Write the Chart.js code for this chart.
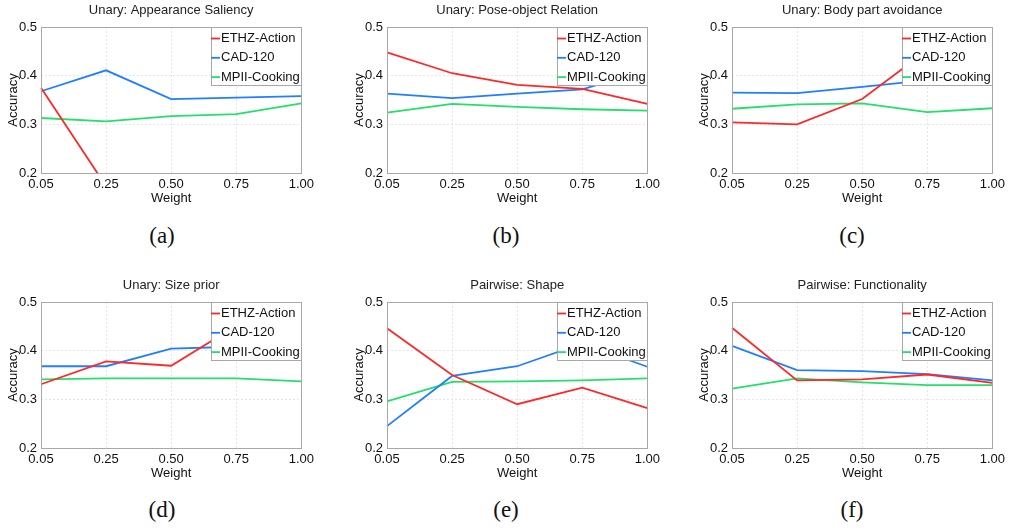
<!DOCTYPE html>
<html>
<head>
<meta charset="utf-8">
<script src="https://cdn.jsdelivr.net/npm/chart.js@4.4.1/dist/chart.umd.min.js"></script>
<style>
  body { margin: 0; background: #fff; }
  #fig { position: relative; width: 1009px; height: 529px; overflow: hidden; }
  #fig canvas { position: absolute; }
  .cap { position: absolute; width: 60px; text-align: center; font-family: "Liberation Serif", "Times New Roman", serif;
         font-size: 23px; line-height: 26px; color: #111; }
</style>
</head>
<body>
<div id="fig"></div>
<script>
// x categories and y ticks
const weights = ['0.05', '0.25', '0.50', '0.75', '1.00'];
const yTicks = [0.2, 0.3, 0.4, 0.5];
const seriesNames = ['ETHZ-Action', 'CAD-120', 'MPII-Cooking'];
const panelTitles = ['Unary: Appearance Saliency', 'Unary: Pose-object Relation', 'Unary: Body part avoidance',
                     'Unary: Size prior', 'Pairwise: Shape', 'Pairwise: Functionality'];
const captions = ['(a)', '(b)', '(c)', '(d)', '(e)', '(f)'];

// (a) appearance saliency
const saliencyEthz = [0.375, 0.173, 0.16, 0.16, 0.16];
const saliencyCad  = [0.368, 0.411, 0.352, 0.355, 0.358];
const saliencyMpii = [0.313, 0.306, 0.317, 0.321, 0.343];
// (b) pose-object relation
const poseEthz = [0.448, 0.405, 0.381, 0.373, 0.342];
const poseCad  = [0.363, 0.354, 0.363, 0.372, 0.412];
const poseMpii = [0.324, 0.342, 0.336, 0.331, 0.328];
// (c) body part avoidance
const bodyEthz = [0.304, 0.300, 0.352, 0.452, 0.398];
const bodyCad  = [0.365, 0.364, 0.377, 0.391, 0.412];
const bodyMpii = [0.332, 0.341, 0.343, 0.325, 0.333];
// (d) size prior
const sizeEthz = [0.331, 0.378, 0.369, 0.451, 0.395];
const sizeCad  = [0.368, 0.368, 0.404, 0.408, 0.411];
const sizeMpii = [0.341, 0.343, 0.343, 0.343, 0.337];
// (e) pairwise shape
const shapeEthz = [0.446, 0.350, 0.290, 0.324, 0.282];
const shapeCad  = [0.245, 0.348, 0.368, 0.415, 0.367];
const shapeMpii = [0.296, 0.336, 0.337, 0.339, 0.343];
// (f) pairwise functionality
const funcEthz = [0.447, 0.339, 0.341, 0.351, 0.334];
const funcCad  = [0.410, 0.360, 0.358, 0.352, 0.339];
const funcMpii = [0.322, 0.343, 0.335, 0.329, 0.329];

const panels = [
  [saliencyEthz, saliencyCad, saliencyMpii],
  [poseEthz, poseCad, poseMpii],
  [bodyEthz, bodyCad, bodyMpii],
  [sizeEthz, sizeCad, sizeMpii],
  [shapeEthz, shapeCad, shapeMpii],
  [funcEthz, funcCad, funcMpii]
];

const colors = ['#ff2828', '#1f7fff', '#24e06a'];
const FONT = '"Liberation Sans", Arial, sans-serif';
const CW = 318, CH = 215;
const canvasPos = [[0, 0], [346, 0], [691, 0], [0, 275], [346, 275], [691, 275]];
const capPos = [[162, 236], [506, 236], [852, 236], [162, 510], [506, 510], [852, 510]];

Chart.defaults.font.family = FONT;
Chart.defaults.color = '#111';

// box around the axes + legend box in the top-right corner
const frameAndLegend = {
  id: 'frameAndLegend',
  afterDatasetsDraw(chart) {
    const { ctx, chartArea: a } = chart;
    const w = 90, h = 58;
    const x0 = Math.round(a.right) - w, y0 = Math.round(a.top);
    ctx.save();
    ctx.fillStyle = '#fff';
    ctx.fillRect(x0, y0, w, h);
    ctx.strokeStyle = '#a8a8a8';
    ctx.lineWidth = 1;
    ctx.strokeRect(x0 + 0.5, y0 + 0.5, w, h);
    ctx.font = '13px ' + FONT;
    ctx.textBaseline = 'middle';
    chart.data.datasets.forEach((ds, i) => {
      const y = y0 + 11.5 + i * 19.3;
      ctx.strokeStyle = ds.borderColor;
      ctx.lineWidth = 1.8;
      ctx.beginPath(); ctx.moveTo(x0, y); ctx.lineTo(x0 + 9, y); ctx.stroke();
      ctx.fillStyle = '#111';
      ctx.fillText(ds.label, x0 + 10, y);
    });
    ctx.strokeStyle = '#a8a8a8';
    ctx.lineWidth = 1;
    ctx.strokeRect(Math.round(a.left) + 0.5, Math.round(a.top) + 0.5, Math.round(a.width), Math.round(a.height));
    ctx.restore();
  }
};

const fig = document.getElementById('fig');

panels.forEach((series, p) => {
  const cv = document.createElement('canvas');
  cv.width = CW; cv.height = CH;
  cv.style.left = canvasPos[p][0] + 'px';
  cv.style.top = canvasPos[p][1] + 'px';
  cv.style.width = CW + 'px'; cv.style.height = CH + 'px';
  fig.appendChild(cv);

  const cap = document.createElement('div');
  cap.className = 'cap';
  cap.textContent = captions[p];
  cap.style.left = (capPos[p][0] - 30) + 'px';
  cap.style.top = (capPos[p][1] - 13) + 'px';
  fig.appendChild(cap);

  new Chart(cv, {
    type: 'line',
    data: {
      labels: weights,
      datasets: series.map((vals, i) => ({
        label: seriesNames[i],
        data: vals,
        borderColor: colors[i],
        backgroundColor: colors[i],
        borderWidth: 1.8,
        pointRadius: 0,
        tension: 0
      }))
    },
    options: {
      responsive: false,
      animation: false,
      events: [],
      layout: { padding: { left: 0, right: 15, top: 0, bottom: 0 } },
      plugins: {
        legend: { display: false },
        tooltip: { enabled: false },
        title: {
          display: true, text: panelTitles[p], fullSize: false,
          font: { size: 13, weight: 'normal' }, color: '#222',
          padding: { top: 3, bottom: 8.4 }
        }
      },
      scales: {
        x: {
          type: 'category', offset: false,
          grid: { color: '#e6e6e6', drawTicks: false },
          border: { display: false, dash: [2, 2] },
          ticks: { font: { size: 13 }, color: '#111', padding: 4, maxRotation: 0, autoSkip: false },
          title: { display: true, text: 'Weight', font: { size: 13 }, color: '#111', padding: { top: 0, bottom: 9 } },
          afterFit: (s) => { s.height = 42; }
        },
        y: {
          min: 0.2, max: 0.5,
          afterBuildTicks: (s) => { s.ticks = yTicks.map(v => ({ value: v })); },
          grid: { color: '#e6e6e6', drawTicks: false },
          border: { display: false, dash: [2, 2] },
          ticks: { font: { size: 13 }, color: '#111', padding: 4, callback: (v) => Number(v).toFixed(1) },
          title: { display: true, text: 'Accuracy', font: { size: 13 }, color: '#111', padding: { top: 6, bottom: 0 } },
          afterFit: (s) => { s.width = 41; }
        }
      }
    },
    plugins: [frameAndLegend]
  });
});
</script>
</body>
</html>
